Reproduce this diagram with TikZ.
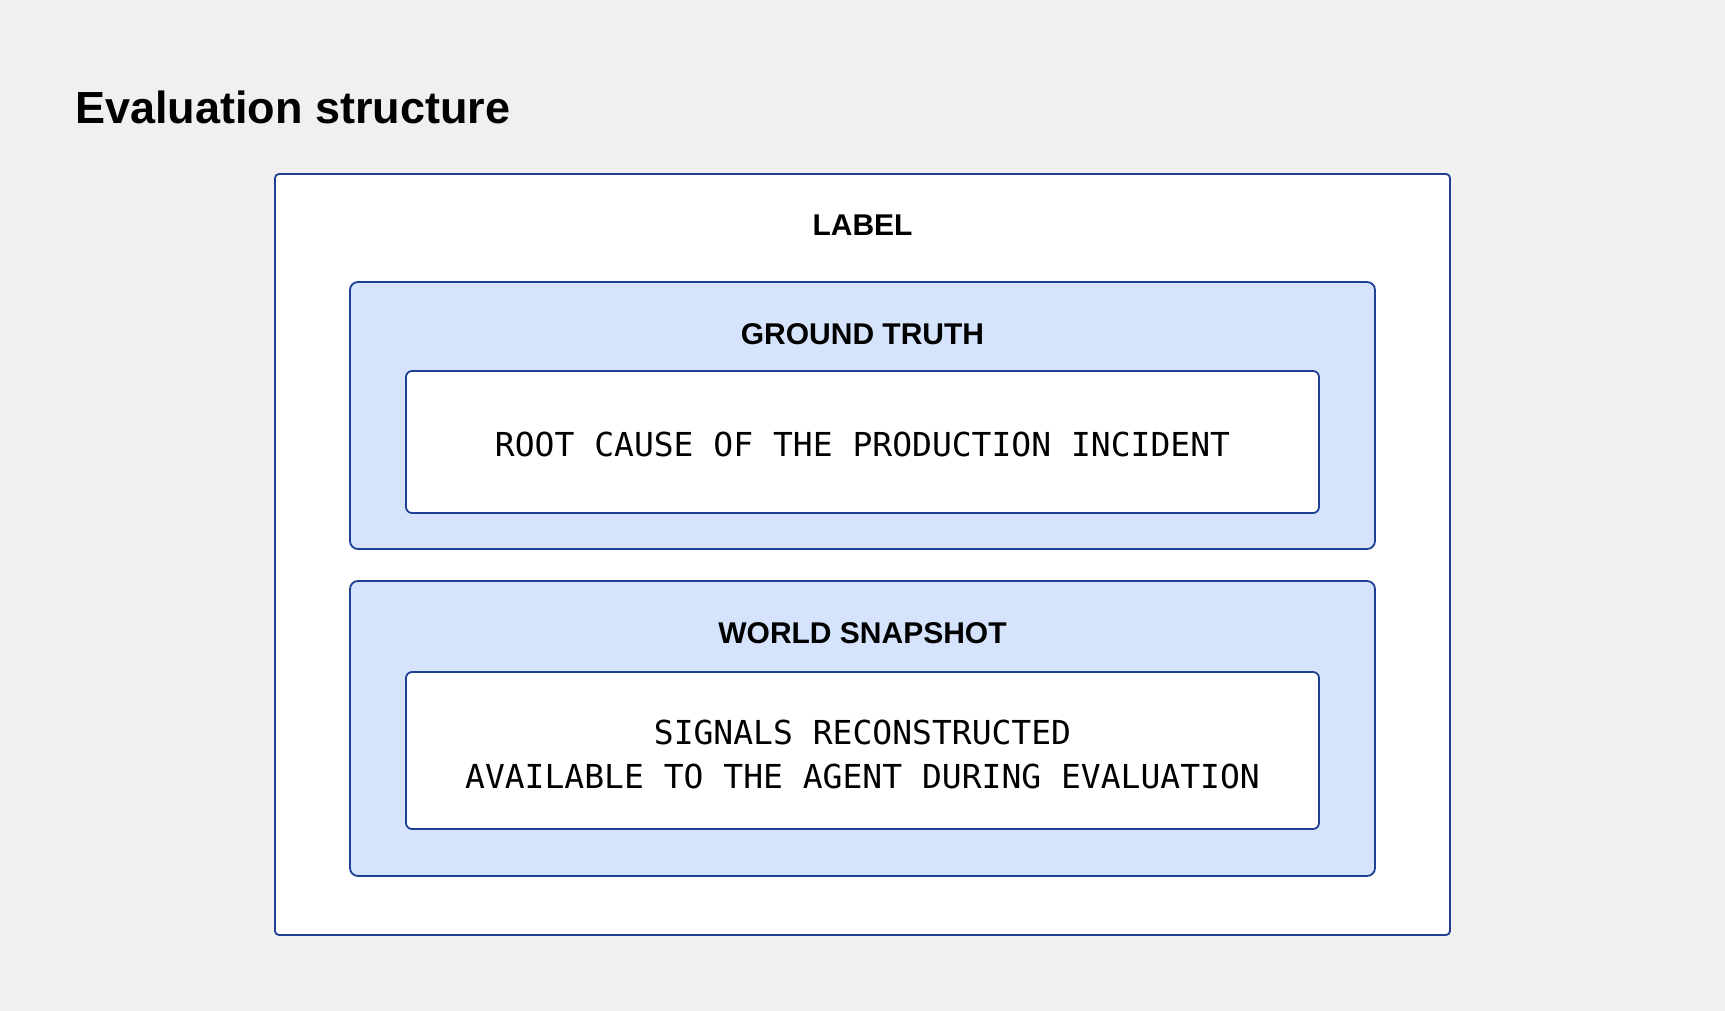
\documentclass[tikz,border=0pt]{standalone}
\usepackage{fontspec}
\setmainfont{Liberation Sans}
\newfontfamily\monofont{DejaVu Sans Mono}
\definecolor{bgcol}{HTML}{F0F0F0}
\definecolor{edgecol}{HTML}{1E3F94}
\definecolor{panelcol}{HTML}{D5E3FC}
\tikzset{
  outerbox/.style={draw=edgecol, line width=1.8pt, fill=white, rounded corners=4pt},
  panelbox/.style={draw=edgecol, line width=1.8pt, fill=panelcol, rounded corners=8pt},
  innerbox/.style={draw=edgecol, line width=1.8pt, fill=white, rounded corners=6pt},
  headtext/.style={anchor=base, inner sep=0pt, font=\fontsize{30}{36}\selectfont\bfseries},
  monotext/.style={anchor=base, inner sep=0pt, font=\fontsize{33}{40}\selectfont\monofont},
}
\begin{document}
\begin{tikzpicture}[x=1pt, y=-1pt]
  \fill[bgcol] (0,0) rectangle (1725,1011);
  \useasboundingbox (0,0) rectangle (1725,1011);

  \node[anchor=base west, inner sep=0pt, font=\fontsize{45}{54}\selectfont\bfseries] (title) at (75,124) {Evaluation structure};

  \draw[outerbox] (275,174) rectangle (1450,935);
  \node[headtext] (label) at (862.5,236) {LABEL};

  \draw[panelbox] (350,282) rectangle (1375,549);
  \node[headtext] (gt) at (862.5,344) {GROUND TRUTH};
  \draw[innerbox] (406,371) rectangle (1319,513);
  \node[monotext] (root) at (862.5,456) {ROOT CAUSE OF THE PRODUCTION INCIDENT};

  \draw[panelbox] (350,581) rectangle (1375,876);
  \node[headtext] (ws) at (862.5,643) {WORLD SNAPSHOT};
  \draw[innerbox] (406,672) rectangle (1319,829);
  \node[monotext] (sig1) at (862.5,744) {SIGNALS RECONSTRUCTED};
  \node[monotext] (sig2) at (862.5,788) {AVAILABLE TO THE AGENT DURING EVALUATION};
\end{tikzpicture}
\end{document}
